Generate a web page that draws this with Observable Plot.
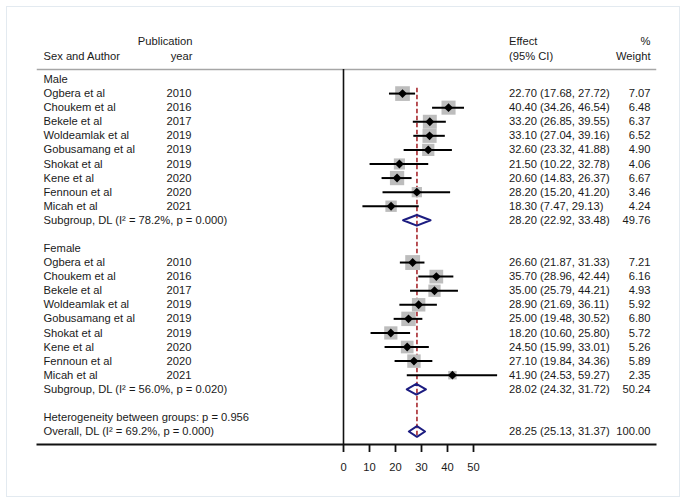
<!DOCTYPE html>
<html><head><meta charset="utf-8">
<script src="https://cdn.jsdelivr.net/npm/d3@7"></script>
<script src="https://cdn.jsdelivr.net/npm/@observablehq/plot@0.6"></script>
<style>body{margin:0;background:#fff} svg{display:block}</style>
</head><body><div id="chart"></div>
<script>
// ---------- data ----------
const groupNames = ["Male", "Female"];
const authors = ["Ogbera et al","Choukem et al","Bekele et al","Woldeamlak et al","Gobusamang et al","Shokat et al","Kene et al","Fennoun et al","Micah et al"];
const years = ["2010","2016","2017","2019","2019","2019","2020","2020","2021"];
const maleEst = [22.70,40.40,33.20,33.10,32.60,21.50,20.60,28.20,18.30];
const maleLo  = [17.68,34.26,26.85,27.04,23.32,10.22,14.83,15.20,7.47];
const maleHi  = [27.72,46.54,39.55,39.16,41.88,32.78,26.37,41.20,29.13];
const maleWeight = [7.07,6.48,6.37,6.52,4.90,4.06,6.67,3.46,4.24];
const femaleEst = [26.60,35.70,35.00,28.90,25.00,18.20,24.50,27.10,41.90];
const femaleLo  = [21.87,28.96,25.79,21.69,19.48,10.60,15.99,19.84,24.53];
const femaleHi  = [31.33,42.44,44.21,36.11,30.52,25.80,33.01,34.36,59.27];
const femaleWeight = [7.21,6.16,4.93,5.92,6.80,5.72,5.26,5.89,2.35];
const subgroupLabels = ["Subgroup, DL (I\u00B2 = 78.2%, p = 0.000)", "Subgroup, DL (I\u00B2 = 56.0%, p = 0.020)"];
const subgroupEst = [28.20, 28.02];
const subgroupLo  = [22.92, 24.32];
const subgroupHi  = [33.48, 31.72];
const subgroupWeight = [49.76, 50.24];
const hetLabel = "Heterogeneity between groups: p = 0.956";
const overallLabel = "Overall, DL (I\u00B2 = 69.2%, p = 0.000)";
const overallEst = 28.25, overallLo = 25.13, overallHi = 31.37, overallWeight = 100.00;
const xTicks = [0, 10, 20, 30, 40, 50];
const headerTop = ["Publication", "Effect", "%"];
const headerBottom = ["Sex and Author", "year", "(95% CI)", "Weight"];

// ---------- build table ----------
const groupData = [
  {est: maleEst, lo: maleLo, hi: maleHi, w: maleWeight},
  {est: femaleEst, lo: femaleLo, hi: femaleHi, w: femaleWeight}
];
const f2 = d3.format(".2f");
const rows = [];
const studies = [];
const pooled = [];
let row = 0;
groupNames.forEach((g, gi) => {
  rows.push({row, label: g});
  row++;
  const gd = groupData[gi];
  authors.forEach((a, i) => {
    const s = {row, label: a, year: years[i], est: gd.est[i], lo: gd.lo[i], hi: gd.hi[i], weight: gd.w[i]};
    studies.push(s);
    rows.push({row, label: a, year: years[i], effect: `${f2(s.est)} (${f2(s.lo)}, ${f2(s.hi)})`, weight: f2(s.weight)});
    row++;
  });
  const p = {row, est: subgroupEst[gi], lo: subgroupLo[gi], hi: subgroupHi[gi], weight: subgroupWeight[gi]};
  pooled.push(p);
  rows.push({row, label: subgroupLabels[gi], effect: `${f2(p.est)} (${f2(p.lo)}, ${f2(p.hi)})`, weight: f2(p.weight)});
  row += 2;
});
rows.push({row, label: hetLabel});
row++;
const ov = {row, est: overallEst, lo: overallLo, hi: overallHi, weight: overallWeight};
pooled.push(ov);
rows.push({row, label: overallLabel, effect: `${f2(ov.est)} (${f2(ov.lo)}, ${f2(ov.hi)})`, weight: f2(ov.weight)});
const lastRow = row;

const halfH = 0.38;
const diamondPts = pooled.flatMap((p, k) => [
  {k, x: p.lo, y: p.row}, {k, x: p.est, y: p.row - halfH},
  {k, x: p.hi, y: p.row}, {k, x: p.est, y: p.row + halfH}
]);
const refLine = [{x: overallEst, y1: studies[0].row - 0.38, y2: lastRow + 0.42}];

// ---------- layout ----------
const W = 685, H = 502;
const mL = 37, mR = 30, mT = 69, mB = 58;
const x0 = 343, pxPer10 = 26;
const y0 = 79, rowH = 14.08;
const txt = "#1a1a1a";

const chart = Plot.plot({
  width: W, height: H,
  marginLeft: mL, marginRight: mR, marginTop: mT, marginBottom: mB,
  style: {fontFamily: "'Liberation Sans', Arial, sans-serif", fontSize: "11.2px", background: "white", color: txt},
  x: {domain: [0, 50], range: [x0, x0 + 5 * pxPer10], label: null},
  y: {domain: [0, lastRow], range: [y0, y0 + lastRow * rowH], axis: null},
  r: {type: "sqrt", domain: [0, 8], range: [0, 3.12 * Math.sqrt(8)]},
  marks: [
    Plot.frame({stroke: "#e3eaf0", insetLeft: -31, insetTop: -63, insetRight: -24, insetBottom: -52}),
    Plot.frame({anchor: "top", stroke: "#a6a6a6", strokeWidth: 1.5}),
    Plot.frame({anchor: "bottom", stroke: "#111", strokeWidth: 2}),
    Plot.ruleX([0], {stroke: "#111", strokeWidth: 1.6}),
    Plot.axisX({ticks: xTicks, tickSize: 8, tickPadding: 11, stroke: "#111", strokeWidth: 1.8, label: null, fontSize: 11.2}),
    Plot.ruleX(refLine, {x: "x", y1: "y1", y2: "y2", stroke: "#a8282e", strokeWidth: 1.6, strokeDasharray: "4.5,2.5"}),
    Plot.dot(studies, {x: "est", y: "row", r: "weight", symbol: "square", fill: "#bdbdbd", stroke: "none"}),
    Plot.ruleY(studies, {y: "row", x1: "lo", x2: "hi", stroke: "#000", strokeWidth: 2}),
    Plot.dot(studies, {x: "est", y: "row", r: 4, symbol: "diamond2", fill: "#000", stroke: "none"}),
    Plot.line(diamondPts, {x: "x", y: "y", z: "k", curve: "linear-closed", stroke: "#1c1c80", strokeWidth: 2, fill: "none"}),
    // row texts
    Plot.text(rows, {y: "row", text: "label", frameAnchor: "left", dx: 6, textAnchor: "start", fill: txt}),
    Plot.text(rows, {y: "row", text: "year", frameAnchor: "left", dx: 129, textAnchor: "start", fill: txt}),
    Plot.text(rows, {y: "row", text: "effect", frameAnchor: "left", dx: 471.5, textAnchor: "start", fill: txt}),
    Plot.text(rows, {y: "row", text: "weight", frameAnchor: "right", dx: -5, textAnchor: "end", fill: txt}),
    // headers
    Plot.text([headerBottom[0]], {frameAnchor: "top-left", dx: 6, dy: -17.5, textAnchor: "start", fill: txt}),
    Plot.text([headerTop[0]], {frameAnchor: "top-left", dx: 155, dy: -32, textAnchor: "end", fill: txt}),
    Plot.text([headerBottom[1]], {frameAnchor: "top-left", dx: 155, dy: -17.5, textAnchor: "end", fill: txt}),
    Plot.text([headerTop[1]], {frameAnchor: "top-left", dx: 471.5, dy: -32, textAnchor: "start", fill: txt}),
    Plot.text([headerBottom[2]], {frameAnchor: "top-left", dx: 471.5, dy: -17.5, textAnchor: "start", fill: txt}),
    Plot.text([headerTop[2]], {frameAnchor: "top-right", dx: -5, dy: -32, textAnchor: "end", fill: txt}),
    Plot.text([headerBottom[3]], {frameAnchor: "top-right", dx: -5, dy: -17.5, textAnchor: "end", fill: txt})
  ]
});
document.getElementById("chart").appendChild(chart);
</script>
</body></html>
